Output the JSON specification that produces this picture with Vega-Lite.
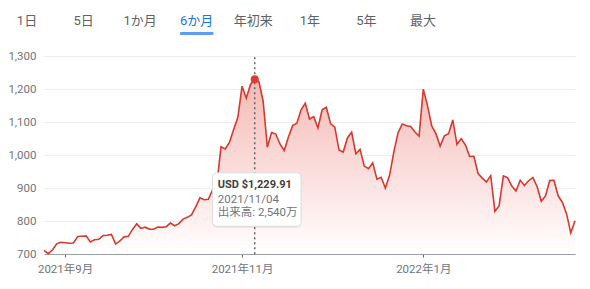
{
  "$schema": "https://vega.github.io/schema/vega-lite/v6.json",
  "padding": {"left": 7, "top": 14, "right": 0, "bottom": 0},
  "background": "white",
  "config": {
    "view": {"stroke": null},
    "font": "Roboto, 'Noto Sans CJK JP', sans-serif",
    "concat": {"spacing": 10},
    "axisY": {"labelOverlap": false, "labelBound": false}
  },
  "datasets": {
    "tabs": [
      {"tab": "1日", "selected": "no"},
      {"tab": "5日", "selected": "no"},
      {"tab": "1か月", "selected": "no"},
      {"tab": "6か月", "selected": "yes"},
      {"tab": "年初来", "selected": "no"},
      {"tab": "1年", "selected": "no"},
      {"tab": "5年", "selected": "no"},
      {"tab": "最大", "selected": "no"}
    ],
    "hover": [
      {"date": "2021-11-04", "price": "USD $1,229.91", "info": ["2021/11/04", "出来高: 2,540万"]}
    ],
    "prices": [
      {"date": "2021-08-25", "close": 711.20},
      {"date": "2021-08-26", "close": 701.16},
      {"date": "2021-08-27", "close": 711.92},
      {"date": "2021-08-30", "close": 730.91},
      {"date": "2021-08-31", "close": 735.72},
      {"date": "2021-09-01", "close": 734.09},
      {"date": "2021-09-02", "close": 732.39},
      {"date": "2021-09-03", "close": 733.57},
      {"date": "2021-09-07", "close": 752.92},
      {"date": "2021-09-08", "close": 753.87},
      {"date": "2021-09-09", "close": 754.86},
      {"date": "2021-09-10", "close": 736.27},
      {"date": "2021-09-13", "close": 743.00},
      {"date": "2021-09-14", "close": 744.49},
      {"date": "2021-09-15", "close": 755.83},
      {"date": "2021-09-16", "close": 756.99},
      {"date": "2021-09-17", "close": 759.49},
      {"date": "2021-09-20", "close": 730.17},
      {"date": "2021-09-21", "close": 739.38},
      {"date": "2021-09-22", "close": 751.94},
      {"date": "2021-09-23", "close": 753.64},
      {"date": "2021-09-24", "close": 774.39},
      {"date": "2021-09-27", "close": 791.36},
      {"date": "2021-09-28", "close": 777.56},
      {"date": "2021-09-29", "close": 781.31},
      {"date": "2021-09-30", "close": 775.48},
      {"date": "2021-10-01", "close": 775.22},
      {"date": "2021-10-04", "close": 781.53},
      {"date": "2021-10-05", "close": 780.59},
      {"date": "2021-10-06", "close": 782.75},
      {"date": "2021-10-07", "close": 793.61},
      {"date": "2021-10-08", "close": 785.49},
      {"date": "2021-10-11", "close": 791.94},
      {"date": "2021-10-12", "close": 805.72},
      {"date": "2021-10-13", "close": 811.08},
      {"date": "2021-10-14", "close": 818.32},
      {"date": "2021-10-15", "close": 843.03},
      {"date": "2021-10-18", "close": 870.11},
      {"date": "2021-10-19", "close": 864.27},
      {"date": "2021-10-20", "close": 865.80},
      {"date": "2021-10-21", "close": 894.00},
      {"date": "2021-10-22", "close": 909.68},
      {"date": "2021-10-25", "close": 1024.86},
      {"date": "2021-10-26", "close": 1018.43},
      {"date": "2021-10-27", "close": 1037.86},
      {"date": "2021-10-28", "close": 1077.04},
      {"date": "2021-10-29", "close": 1114.00},
      {"date": "2021-11-01", "close": 1208.59},
      {"date": "2021-11-02", "close": 1172.00},
      {"date": "2021-11-03", "close": 1213.86},
      {"date": "2021-11-04", "close": 1229.91},
      {"date": "2021-11-05", "close": 1222.09},
      {"date": "2021-11-08", "close": 1162.94},
      {"date": "2021-11-09", "close": 1023.50},
      {"date": "2021-11-10", "close": 1067.95},
      {"date": "2021-11-11", "close": 1063.51},
      {"date": "2021-11-12", "close": 1033.42},
      {"date": "2021-11-15", "close": 1013.39},
      {"date": "2021-11-16", "close": 1054.73},
      {"date": "2021-11-17", "close": 1089.01},
      {"date": "2021-11-18", "close": 1096.38},
      {"date": "2021-11-19", "close": 1137.06},
      {"date": "2021-11-22", "close": 1156.87},
      {"date": "2021-11-23", "close": 1109.03},
      {"date": "2021-11-24", "close": 1116.00},
      {"date": "2021-11-26", "close": 1081.92},
      {"date": "2021-11-29", "close": 1136.99},
      {"date": "2021-11-30", "close": 1144.76},
      {"date": "2021-12-01", "close": 1095.00},
      {"date": "2021-12-02", "close": 1084.60},
      {"date": "2021-12-03", "close": 1014.97},
      {"date": "2021-12-06", "close": 1009.01},
      {"date": "2021-12-07", "close": 1051.75},
      {"date": "2021-12-08", "close": 1068.96},
      {"date": "2021-12-09", "close": 1003.80},
      {"date": "2021-12-10", "close": 1017.03},
      {"date": "2021-12-13", "close": 966.41},
      {"date": "2021-12-14", "close": 958.51},
      {"date": "2021-12-15", "close": 975.99},
      {"date": "2021-12-16", "close": 926.92},
      {"date": "2021-12-17", "close": 932.57},
      {"date": "2021-12-20", "close": 899.94},
      {"date": "2021-12-21", "close": 938.53},
      {"date": "2021-12-22", "close": 1008.87},
      {"date": "2021-12-23", "close": 1067.00},
      {"date": "2021-12-27", "close": 1093.94},
      {"date": "2021-12-28", "close": 1088.47},
      {"date": "2021-12-29", "close": 1086.19},
      {"date": "2021-12-30", "close": 1070.34},
      {"date": "2021-12-31", "close": 1056.78},
      {"date": "2022-01-03", "close": 1199.78},
      {"date": "2022-01-04", "close": 1149.59},
      {"date": "2022-01-05", "close": 1088.12},
      {"date": "2022-01-06", "close": 1064.70},
      {"date": "2022-01-07", "close": 1026.96},
      {"date": "2022-01-10", "close": 1058.12},
      {"date": "2022-01-11", "close": 1064.40},
      {"date": "2022-01-12", "close": 1106.22},
      {"date": "2022-01-13", "close": 1031.56},
      {"date": "2022-01-14", "close": 1049.61},
      {"date": "2022-01-18", "close": 1030.51},
      {"date": "2022-01-19", "close": 995.65},
      {"date": "2022-01-20", "close": 996.27},
      {"date": "2022-01-21", "close": 943.90},
      {"date": "2022-01-24", "close": 930.00},
      {"date": "2022-01-25", "close": 918.40},
      {"date": "2022-01-26", "close": 937.41},
      {"date": "2022-01-27", "close": 829.10},
      {"date": "2022-01-28", "close": 846.35},
      {"date": "2022-01-31", "close": 936.72},
      {"date": "2022-02-01", "close": 931.25},
      {"date": "2022-02-02", "close": 905.66},
      {"date": "2022-02-03", "close": 891.14},
      {"date": "2022-02-04", "close": 923.32},
      {"date": "2022-02-07", "close": 907.34},
      {"date": "2022-02-08", "close": 922.00},
      {"date": "2022-02-09", "close": 932.00},
      {"date": "2022-02-10", "close": 904.55},
      {"date": "2022-02-11", "close": 860.00},
      {"date": "2022-02-14", "close": 875.76},
      {"date": "2022-02-15", "close": 922.43},
      {"date": "2022-02-16", "close": 923.39},
      {"date": "2022-02-17", "close": 876.35},
      {"date": "2022-02-18", "close": 856.98},
      {"date": "2022-02-22", "close": 821.53},
      {"date": "2022-02-23", "close": 764.04},
      {"date": "2022-02-24", "close": 800.77}
    ]
  },
  "columns": 1,
  "align": "none",
  "concat": [
    {
      "width": 396,
      "height": 26,
      "data": {"name": "tabs"},
      "layer": [
        {
          "mark": {"type": "text", "fontSize": 13, "baseline": "middle", "align": "center", "dx": -17},
          "encoding": {
            "x": {"field": "tab", "type": "ordinal", "sort": null, "scale": {"type": "point", "padding": 0}, "axis": null},
            "y": {"datum": "label", "type": "ordinal", "scale": {"type": "point", "domain": ["label", "bar"], "padding": 0.5}, "axis": null},
            "text": {"field": "tab"},
            "color": {"field": "selected", "type": "nominal", "scale": {"domain": ["no", "yes"], "range": ["#5f6368", "#1a73e8"]}, "legend": null}
          }
        },
        {
          "transform": [{"filter": "datum.selected == 'yes'"}],
          "mark": {"type": "tick", "orient": "horizontal", "thickness": 3, "size": 34, "color": "#1a73e8", "cornerRadius": 1.5, "xOffset": -17},
          "encoding": {
            "x": {"field": "tab", "type": "ordinal", "sort": null, "axis": null},
            "y": {"datum": "bar", "type": "ordinal", "axis": null}
          }
        }
      ]
    },
    {
      "width": 531,
      "height": 198,
      "data": {"name": "prices"},
      "layer": [
        {
          "mark": {
            "type": "area",
            "color": {"gradient": "linear", "x1": 1, "y1": 1, "x2": 1, "y2": 0,
              "stops": [{"offset": 0, "color": "#ffffff"}, {"offset": 1, "color": "#f5b9b5"}]}
          },
          "encoding": {
            "x": {
              "field": "date", "type": "ordinal",
              "scale": {"type": "point", "padding": 0},
              "axis": {
                "values": ["2021-09-01", "2021-11-01", "2022-01-03"],
                "labelExpr": "datum.value == '2021-09-01' ? '2021年9月' : datum.value == '2021-11-01' ? '2021年11月' : '2022年1月'",
                "labelAngle": 0, "title": null, "grid": false, "labelOverlap": false,
                "domainColor": "#9aa0a6", "tickColor": "#5f6368", "tickSize": 3,
                "labelColor": "#70757a", "labelFontSize": 11.5, "labelPadding": 6
              }
            },
            "y": {
              "field": "close", "type": "quantitative",
              "scale": {"domain": [700, 1300], "zero": false, "nice": false},
              "axis": {
                "values": [700, 800, 900, 1000, 1100, 1200, 1300], "tickCount": 7,
                "format": ",.0f", "title": null, "domain": false, "ticks": false,
                "labelPadding": 8, "labelColor": "#70757a", "labelFontSize": 11.5,
                "grid": true, "gridColor": "#ececec"
              }
            },
            "y2": {"datum": 700}
          }
        },
        {
          "mark": {"type": "line", "color": "#d33b30", "strokeWidth": 1.6},
          "encoding": {
            "x": {"field": "date", "type": "ordinal"},
            "y": {"field": "close", "type": "quantitative", "axis": {"values": [700, 800, 900, 1000, 1100, 1200, 1300], "tickCount": 7}}
          }
        },
        {
          "data": {"name": "hover"},
          "mark": {"type": "rule", "color": "#5f6368", "strokeDash": [2, 3], "strokeWidth": 1.5},
          "encoding": {
            "x": {"field": "date", "type": "ordinal"},
            "y": {"datum": 1296, "type": "quantitative", "axis": {"values": [700, 800, 900, 1000, 1100, 1200, 1300], "tickCount": 7}},
            "y2": {"datum": 697}
          }
        },
        {
          "transform": [{"filter": "datum.date == '2021-11-04'"}],
          "mark": {"type": "point", "filled": true, "color": "#dd3a30", "size": 64, "opacity": 1},
          "encoding": {
            "x": {"field": "date", "type": "ordinal"},
            "y": {"field": "close", "type": "quantitative", "axis": {"values": [700, 800, 900, 1000, 1100, 1200, 1300], "tickCount": 7}}
          }
        },
        {
          "data": {"name": "hover"},
          "mark": {"type": "rect", "color": "#000000", "opacity": 0.08, "cornerRadius": 5, "yOffset": 1.5, "y2Offset": 1.5},
          "encoding": {
            "x": {"datum": "2021-10-21", "type": "ordinal"},
            "x2": {"datum": "2021-11-19"},
            "y": {"datum": 946, "type": "quantitative", "axis": {"values": [700, 800, 900, 1000, 1100, 1200, 1300], "tickCount": 7}},
            "y2": {"datum": 784}
          }
        },
        {
          "data": {"name": "hover"},
          "mark": {"type": "rect", "fill": "#ffffff", "stroke": "#dadce0", "strokeWidth": 1, "cornerRadius": 4},
          "encoding": {
            "x": {"datum": "2021-10-21", "type": "ordinal"},
            "x2": {"datum": "2021-11-19"},
            "y": {"datum": 946, "type": "quantitative", "axis": {"values": [700, 800, 900, 1000, 1100, 1200, 1300], "tickCount": 7}},
            "y2": {"datum": 784}
          }
        },
        {
          "data": {"name": "hover"},
          "mark": {"type": "text", "align": "left", "baseline": "middle", "fontSize": 11, "fontWeight": "bold", "color": "#3c4043", "dx": 1},
          "encoding": {
            "x": {"datum": "2021-10-22", "type": "ordinal"},
            "y": {"datum": 909, "type": "quantitative", "axis": {"values": [700, 800, 900, 1000, 1100, 1200, 1300], "tickCount": 7}},
            "text": {"field": "price"}
          }
        },
        {
          "data": {"name": "hover"},
          "mark": {"type": "text", "align": "left", "baseline": "middle", "fontSize": 11.5, "lineHeight": 12.7, "color": "#70757a", "dx": 1},
          "encoding": {
            "x": {"datum": "2021-10-22", "type": "ordinal"},
            "y": {"datum": 863, "type": "quantitative", "axis": {"values": [700, 800, 900, 1000, 1100, 1200, 1300], "tickCount": 7}},
            "text": {"field": "info"}
          }
        }
      ]
    }
  ]
}
